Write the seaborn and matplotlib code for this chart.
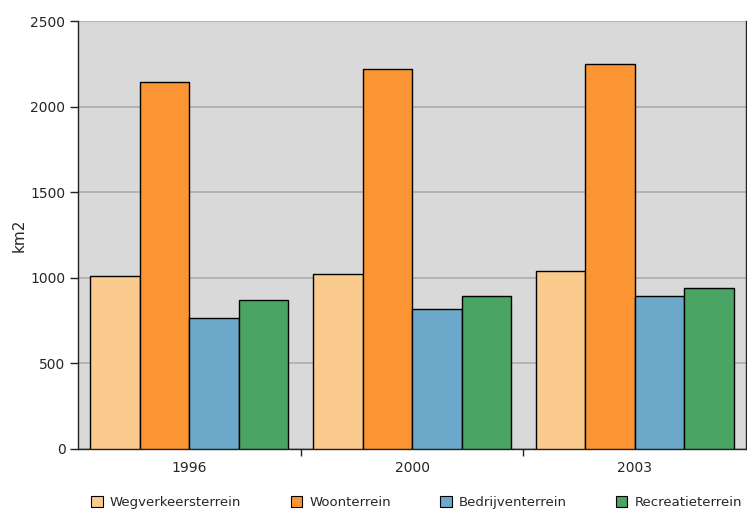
import matplotlib
matplotlib.use("Agg")
import matplotlib.pyplot as plt
import seaborn as sns
import pandas as pd
from matplotlib.patches import Patch

years = ["1996", "2000", "2003"]
series = ["Wegverkeersterrein", "Woonterrein", "Bedrijventerrein", "Recreatieterrein"]
weg = [1008, 1020, 1040]
woon = [2142, 2220, 2247]
bedrijf = [763, 818, 895]
recreatie = [868, 894, 942]
colors = ["#fbcb8d", "#fb9533", "#6ba8c9", "#4aa564"]
yticks = [0, 500, 1000, 1500, 2000, 2500]

rows = []
for name, vals in zip(series, [weg, woon, bedrijf, recreatie]):
    for y, v in zip(years, vals):
        rows.append({"jaar": y, "soort": name, "km2": v})
df = pd.DataFrame(rows)

sns.set_style("white")
plt.rcParams['font.family'] = ['DejaVu Sans']

fig = plt.figure(figsize=(7.47, 5.14), dpi=100)
ax = fig.add_axes([0.1044, 0.1265, 0.8946, 0.8326])
ax.set_facecolor("#d9d9d9")
sns.barplot(data=df, x="jaar", y="km2", hue="soort", hue_order=series,
            order=years, palette=colors, width=0.89, edgecolor="black",
            linewidth=1.0, saturation=1, ax=ax, legend=False, zorder=3)
ax.set_xlim(-0.5, 2.5)
ax.set_ylim(0, 2500)
ax.set_yticks(yticks)
ax.yaxis.grid(True, color="#b0b0b0", linewidth=1.3, zorder=1)
ax.set_axisbelow(True)
ax.spines["top"].set_visible(False)
for s in ["left", "bottom", "right"]:
    ax.spines[s].set_color("#222222")
    ax.spines[s].set_linewidth(1.0)
ax.set_xlabel("")
ax.set_ylabel("km2", fontsize=11, labelpad=3)
ax.tick_params(axis="y", direction="out", length=6, width=1, color="#222222",
               labelsize=10, pad=3, left=True)
ax.tick_params(axis="x", which="major", length=0, labelsize=10, pad=9)
ax.set_xticks([0.5, 1.5], minor=True)
ax.tick_params(axis="x", which="minor", direction="out", length=5, width=1,
               color="#222222", bottom=True)

handles = [Patch(facecolor=c, edgecolor="black", linewidth=0.8) for c in colors]
fig.legend(handles, series, loc="center", bbox_to_anchor=(0.558, 0.022), ncol=4,
           frameon=False, fontsize=9.5, handlelength=0.85, handleheight=0.85,
           columnspacing=3.75, handletextpad=0.55)

fig.savefig("out.png", dpi=100)
